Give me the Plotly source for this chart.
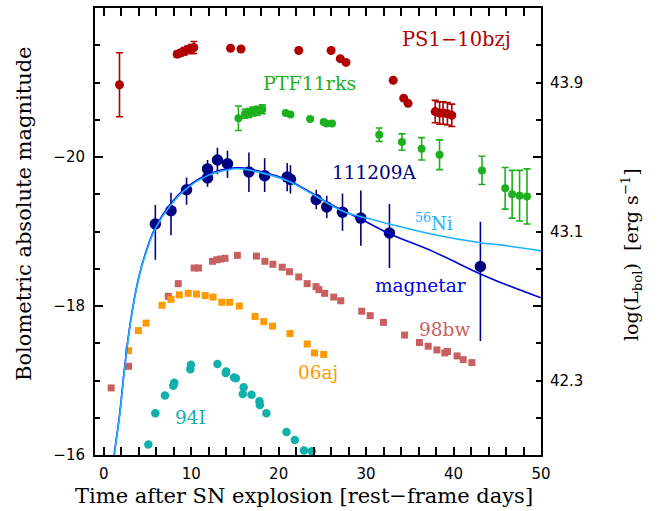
import plotly.graph_objects as go

# ---------------- data ----------------
# PS1-10bzj
ps1_t = [1.8, 8.4, 8.8, 9.2, 9.6, 10.0, 10.3, 14.5, 15.7, 22.3, 26.0, 27.05, 27.7, 33.1, 34.3, 34.8, 37.9, 38.4, 38.8, 39.3, 39.8]
ps1_m = [-20.97, -21.38, -21.40, -21.42, -21.44, -21.45, -21.47, -21.46, -21.45, -21.43, -21.43, -21.32, -21.27, -21.03, -20.79, -20.72, -20.61, -20.59, -20.59, -20.58, -20.56]
ps1_e = [0.43, 0.04, 0.04, 0.05, 0.05, 0.06, 0.08, 0, 0, 0, 0, 0, 0, 0, 0, 0, 0.15, 0.15, 0.15, 0.15, 0.15]

# PTF11rks
ptf_t = [15.4, 16.15, 16.6, 17.06, 17.56, 18.13, 20.8, 21.35, 23.6, 25.15, 25.46, 26.1, 31.5, 34.1, 36.35, 38.4, 43.25, 45.9, 46.7, 47.55, 48.4]
ptf_m = [-20.52, -20.58, -20.59, -20.61, -20.62, -20.64, -20.59, -20.57, -20.51, -20.47, -20.45, -20.45, -20.30, -20.20, -20.11, -20.03, -19.82, -19.58, -19.50, -19.48, -19.47]
ptf_e = [0.165, 0.06, 0.06, 0.06, 0.06, 0.06, 0, 0, 0, 0, 0, 0, 0.09, 0.11, 0.15, 0.2, 0.19, 0.28, 0.32, 0.34, 0.37]

# GRB 111209A
grb_t = [5.9, 7.69, 9.47, 11.87, 11.87, 13.0, 14.15, 16.6, 18.4, 20.98, 21.35, 24.3, 25.5, 27.3, 29.4, 32.67, 43.07]
grb_m = [-19.10, -19.28, -19.56, -19.84, -19.72, -19.96, -19.91, -19.80, -19.75, -19.73, -19.70, -19.43, -19.33, -19.26, -19.18, -18.98, -18.53]
grb_e_bright = [0.255, 0.24, 0.165, 0.12, 0.12, 0.165, 0.175, 0.26, 0.235, 0.19, 0.19, 0.13, 0.15, 0.25, 0.37, 0.39, 0.60]
grb_e_faint = [0.48, 0.33, 0.20, 0.12, 0.12, 0.19, 0.19, 0.27, 0.22, 0.19, 0.19, 0.13, 0.15, 0.25, 0.37, 0.47, 1.00]

# SN 1998bw
bw_t = [0.85, 2.83, 7.38, 8.52, 10.34, 10.84, 12.44, 12.93, 13.38, 13.87, 15.28, 17.45, 18.43, 19.34, 20.41, 21.24, 22.3, 23.26,
        24.28, 24.6, 25.26, 26.3, 27.1, 29.5, 30.47, 31.98, 34.4, 36.1, 37.1, 38.1, 39.0, 39.3, 40.4, 41.1, 42.1]
bw_m = [-16.90, -17.19, -18.13, -18.30, -18.51, -18.51, -18.60, -18.62, -18.63, -18.64, -18.68, -18.67, -18.60, -18.56, -18.52, -18.46, -18.39, -18.30,
        -18.26, -18.22, -18.17, -18.12, -18.07, -17.93, -17.87, -17.78, -17.61, -17.51, -17.46, -17.41, -17.37, -17.39, -17.33, -17.28, -17.24]

# SN 2006aj
aj_t = [2.83, 3.96, 4.84, 6.66, 7.69, 8.64, 9.66, 10.6, 11.6, 12.5, 13.5, 14.4, 15.5, 17.3, 18.3, 19.3, 21.3, 23.26, 24.1, 25.15]
aj_m = [-17.40, -17.67, -17.77, -18.01, -18.09, -18.15, -18.17, -18.16, -18.14, -18.12, -18.05, -18.05, -18.00, -17.86, -17.79, -17.73, -17.63, -17.49, -17.37, -17.35]

# SN 1994I
i94_t = [5.1, 5.9, 7.0, 7.95, 8.06, 9.9, 9.97, 13.0, 13.95, 14.0, 14.9, 15.1, 16.0, 15.9, 16.9, 17.8, 17.85, 18.6, 20.9, 21.85, 22.9, 23.8]
i94_m = [-16.14, -16.56, -16.80, -16.93, -16.97, -17.15, -17.21, -17.22, -17.10, -17.12, -17.04, -17.03, -16.91, -16.82, -16.81, -16.72, -16.67, -16.56, -16.31, -16.20, -16.06, -16.05]

# model curves
ni_t = [1.16, 1.23, 1.8, 2.37, 2.94, 3.7, 4.27, 5.2, 5.9, 7.69, 9.51, 11.87, 14.2, 15.66, 18.3, 21.0, 23.6, 25.9, 27.4, 29.33, 32.67, 37.68, 43.07, 45.3, 50.0]
ni_m = [-15.93, -16.02, -16.51, -17.14, -17.68, -18.21, -18.50, -18.84, -19.04, -19.36, -19.58, -19.75, -19.83, -19.84, -19.78, -19.68, -19.52, -19.36, -19.27, -19.20, -19.10, -18.96, -18.85, -18.82, -18.74]
mag_t = [1.14, 1.21, 1.78, 2.35, 2.92, 3.68, 4.25, 5.18, 5.88, 7.67, 9.49, 11.85, 14.18, 15.64, 18.28, 20.98, 23.58, 25.88, 27.4, 29.33, 32.67, 37.68, 43.07, 45.3, 50.0]
mag_m = [-15.93, -16.02, -16.51, -17.14, -17.68, -18.21, -18.50, -18.85, -19.05, -19.375, -19.595, -19.765, -19.845, -19.855, -19.795, -19.695, -19.53, -19.37, -19.28, -19.17, -18.97, -18.73, -18.43, -18.32, -18.11]

x_ticks = [0, 10, 20, 30, 40, 50]
y_ticks = [-22, -20, -18, -16]
y_tick_text = ["−22", "−20", "−18", "−16"]
r_tick_vals = [-21, -19, -17]
r_tick_text = ["43.9", "43.1", "42.3"]

# ---------------- colours ----------------
C_PS1 = "#B00000"
C_PTF = "#1DB01D"
C_GRB = "#000080"
C_BW = "#C86060"
C_AJ = "#FF9900"
C_94I = "#10B0AC"
C_MAG = "#0000DD"
C_NI = "#1CB0FF"

SERIF = "DejaVu Serif"
SANS = "DejaVu Sans"

fig = go.Figure()

def err(arr, color, width):
    return dict(type="data", array=arr, symmetric=True, color=color, thickness=1.6, width=width, visible=True)

fig.add_trace(go.Scatter(x=ps1_t, y=ps1_m, mode="markers", marker=dict(color=C_PS1, size=9),
                         error_y=err(ps1_e, C_PS1, 3.5), showlegend=False))
fig.add_trace(go.Scatter(x=ptf_t, y=ptf_m, mode="markers", marker=dict(color=C_PTF, size=8),
                         error_y=err(ptf_e, C_PTF, 3.5), showlegend=False))
fig.add_trace(go.Scatter(x=bw_t, y=bw_m, mode="markers", marker=dict(color=C_BW, size=7, symbol="square"), showlegend=False))
fig.add_trace(go.Scatter(x=aj_t, y=aj_m, mode="markers", marker=dict(color=C_AJ, size=7, symbol="square"), showlegend=False))
fig.add_trace(go.Scatter(x=i94_t, y=i94_m, mode="markers", marker=dict(color=C_94I, size=8.5), showlegend=False))
fig.add_trace(go.Scatter(x=grb_t, y=grb_m, mode="markers", marker=dict(color=C_GRB, size=11.5),
                         error_y=dict(type="data", symmetric=False, array=grb_e_faint, arrayminus=grb_e_bright,
                                      color=C_GRB, thickness=1.6, width=0), showlegend=False))
fig.add_trace(go.Scatter(x=mag_t, y=mag_m, mode="lines", line=dict(color=C_MAG, width=1.6, shape="spline"), showlegend=False))
fig.add_trace(go.Scatter(x=ni_t, y=ni_m, mode="lines", line=dict(color=C_NI, width=1.6, shape="spline"), showlegend=False))
# invisible trace that activates the right-hand axis
fig.add_trace(go.Scatter(x=[None], y=[None], yaxis="y2", showlegend=False))

labels = [
    (40.3, -21.58, "PS1−10bzj", C_PS1, 19.5),
    (23.5, -20.99, "PTF11rks", C_PTF, 19),
    (31.0, -19.79, "111209A", C_GRB, 18.5),
    (37.8, -19.13, "<sup>56</sup>Ni", C_NI, 18),
    (36.2, -18.28, "magnetar", C_MAG, 18.5),
    (39.0, -17.69, "98bw", C_BW, 18.5),
    (24.5, -17.11, "06aj", C_AJ, 18.5),
    (9.97, -16.50, "94I", C_94I, 18.5),
]
annotations = []
for x, y, t, c, s in labels:
    annotations.append(dict(x=x, y=y, xref="x", yref="y", text=t, showarrow=False,
                            font=dict(family=SERIF, size=s, color=c), xanchor="center", yanchor="middle"))

L, R, T, B = 95, 122, 8, 56
W, H = 663, 511
pw, ph = W - L - R, H - T - B

def px2paper(px, py):
    return (px - L) / pw, (H - B - py) / ph

ax, ay = px2paper(304, 496)
annotations.append(dict(x=ax, y=ay, xref="paper", yref="paper", text="Time after SN explosion [rest−frame days]",
                        showarrow=False, font=dict(family=SERIF, size=21, color="black"),
                        xanchor="center", yanchor="middle"))
ax, ay = px2paper(24, 214)
annotations.append(dict(x=ax, y=ay, xref="paper", yref="paper", text="Bolometric absolute magnitude",
                        showarrow=False, textangle=-90, font=dict(family=SERIF, size=21, color="black"),
                        xanchor="center", yanchor="middle"))
ax, ay = px2paper(631, 255)
annotations.append(dict(x=ax, y=ay, xref="paper", yref="paper", text="log(L<sub>bol</sub>)  [erg s<sup>−1</sup>]",
                        showarrow=False, textangle=-90, font=dict(family=SERIF, size=19, color="black"),
                        xanchor="center", yanchor="middle"))

fig.update_layout(
    width=W, height=H,
    margin=dict(l=L, r=R, t=T, b=B, pad=0, autoexpand=False),
    paper_bgcolor="white", plot_bgcolor="white",
    font=dict(family=SANS, size=15, color="black"),
    annotations=annotations,
    xaxis=dict(range=[-1, 50], tickvals=x_ticks, ticks="inside", ticklen=8, tickwidth=1.5, tickcolor="black",
               minor=dict(dtick=2, tick0=0, ticks="inside", ticklen=4.5, tickwidth=1.5, tickcolor="black"),
               showline=True, linewidth=2, linecolor="black", mirror="allticks", showgrid=False, zeroline=False,
               tickfont=dict(family=SANS, size=15), ticklabelstandoff=4, automargin=False),
    yaxis=dict(range=[-16, -22], tickvals=y_ticks, ticktext=y_tick_text, ticks="inside", ticklen=8,
               tickwidth=1.5, tickcolor="black",
               minor=dict(dtick=0.5, tick0=0, ticks="inside", ticklen=5, tickwidth=1.5, tickcolor="black"),
               showline=True, linewidth=2, linecolor="black", mirror="allticks", showgrid=False, zeroline=False,
               tickfont=dict(family=SANS, size=15), ticklabelstandoff=5, automargin=False),
    yaxis2=dict(range=[-16, -22], overlaying="y", side="right", tickvals=r_tick_vals, ticktext=r_tick_text,
                ticks="", showline=False, showgrid=False, zeroline=False,
                tickfont=dict(family=SANS, size=15), ticklabelstandoff=8, automargin=False),
)

fig.write_html("out.html", config={"displayModeBar": False},
               post_script="document.body.style.margin='0';document.body.style.overflow='hidden';")
